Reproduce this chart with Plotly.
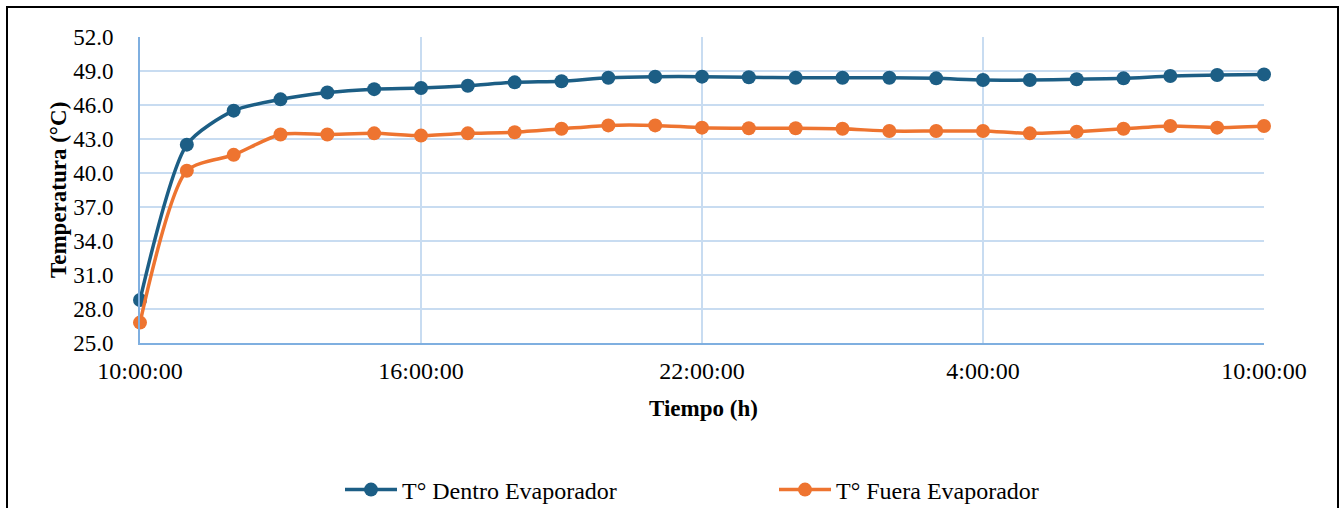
import plotly.graph_objects as go
import pandas as pd

# Hourly readings, 10:00 on day 1 through 10:00 on day 2
times = pd.date_range("2023-01-01 10:00", "2023-01-02 10:00", freq="h")

dentro = [28.8, 42.5, 45.5, 46.5, 47.1, 47.4, 47.5, 47.7, 48.0, 48.1,
          48.4, 48.5, 48.5, 48.45, 48.4, 48.4, 48.4, 48.35, 48.2, 48.2,
          48.27, 48.35, 48.56, 48.65, 48.7]
fuera = [26.8, 40.2, 41.6, 43.4, 43.4, 43.5, 43.3, 43.5, 43.6, 43.9,
         44.2, 44.2, 44.0, 43.95, 43.95, 43.9, 43.7, 43.7, 43.7, 43.5,
         43.65, 43.9, 44.15, 44.0, 44.15]

x_tick_vals = ["2023-01-01 10:00", "2023-01-01 16:00", "2023-01-01 22:00",
               "2023-01-02 04:00", "2023-01-02 10:00"]
x_tick_text = ["10:00:00", "16:00:00", "22:00:00", "4:00:00", "10:00:00"]
y_tick_vals = [25, 28, 31, 34, 37, 40, 43, 46, 49, 52]

BLUE = "#1C5E85"
ORANGE = "#EE7430"
GRID = "#C8DCF1"
AXIS = "#7FAFE0"
FONT = "Liberation Serif"

fig = go.Figure()
fig.add_trace(go.Scatter(
    x=times, y=dentro, name="T° Dentro Evaporador", mode="lines+markers",
    line=dict(color=BLUE, width=3.5, shape="spline", smoothing=0.7),
    marker=dict(color=BLUE, size=14), cliponaxis=False))
fig.add_trace(go.Scatter(
    x=times, y=fuera, name="T° Fuera Evaporador", mode="lines+markers",
    line=dict(color=ORANGE, width=3.5, shape="spline", smoothing=0.7),
    marker=dict(color=ORANGE, size=14), cliponaxis=False))

L, R, T, B = 140, 76, 37, 165
W, H = 1340, 508
pw, ph = W - L - R, H - T - B


def px(xp):
    return (xp - L) / pw


def py(yp):
    return (H - B - yp) / ph


fig.update_layout(
    width=W, height=H,
    margin=dict(l=L, r=R, t=T, b=B, autoexpand=False),
    paper_bgcolor="white", plot_bgcolor="white",
    font=dict(family=FONT, size=22, color="black"),
    showlegend=True,
    legend=dict(orientation="h", x=px(774), y=py(490), xanchor="center",
                yanchor="middle",
                font=dict(family=FONT, size=24, color="black"),
                itemwidth=52, entrywidth=367, bgcolor="rgba(0,0,0,0)"),
    xaxis=dict(range=[x_tick_vals[0], x_tick_vals[-1]],
               tickvals=x_tick_vals, ticktext=x_tick_text,
               showgrid=True, gridcolor=GRID, gridwidth=2,
               showline=True, linecolor=AXIS, linewidth=2,
               ticks="", ticklabelstandoff=5,
               tickfont=dict(family=FONT, size=24, color="black")),
    yaxis=dict(range=[25, 52], tickvals=y_tick_vals, tickformat=".1f",
               showgrid=True, gridcolor=GRID, gridwidth=2,
               showline=True, linecolor=AXIS, linewidth=2,
               ticks="", ticklabelstandoff=20, zeroline=False,
               tickfont=dict(family=FONT, size=23, color="black")),
    annotations=[
        dict(text="<b>Tiempo (h)</b>", x=px(703), y=py(408), xref="paper",
             yref="paper", showarrow=False,
             font=dict(family=FONT, size=23, color="black"),
             xanchor="center", yanchor="middle"),
        dict(text="<b>Temperatura (°C)</b>", x=px(58), y=py(190),
             xref="paper", yref="paper", showarrow=False, textangle=-90,
             font=dict(family=FONT, size=23, color="black"),
             xanchor="center", yanchor="middle"),
    ],
    shapes=[dict(type="rect", xref="paper", yref="paper",
                 x0=px(7), x1=px(1338), y0=py(520), y1=py(7),
                 line=dict(color="black", width=2), layer="below")],
)

fig.write_html("out.html")
